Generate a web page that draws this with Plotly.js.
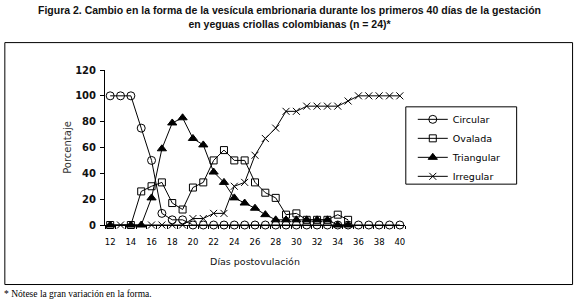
<!DOCTYPE html>
<html>
<head>
<meta charset="utf-8">
<script src="https://cdn.plot.ly/plotly-3.0.1.min.js"></script>
<style>html,body{margin:0;padding:0;background:#fff;}#chart{width:582px;height:307px;}</style>
</head>
<body>
<div id="chart"></div>
<script>
// Días postovulación
const dias = [12,13,14,15,16,17,18,19,20,21,22,23,24,25,26,27,28,29,30,31,32,33,34,35,36,37,38,39,40];
const xTickVals = [12,14,16,18,20,22,24,26,28,30,32,34,36,38,40];
const yTickVals = [0,20,40,60,80,100,120];
const seriesNames = ["Circular","Ovalada","Triangular","Irregular"];
const circular   = [100,100,100,75,50,9,4,4,0,0,0,0,0,0,0,0,0,0,0,0,0,0,0,0,0,0,0,0,0];
const ovalada    = [0,null,0,26,30,33,17,12,29,33,50,58,50,50,33,25,21,8,9,4,4,4,8,4,null,null,null,null,null];
const triangular = [0,null,0,0,21,59,79,83,67,62,41,33,21,17,13,8,4,4,4,4,4,4,0,0,null,null,null,null,null];
const irregular  = [null,0,null,null,0,0,0,0,5,5,9,9,30,33,54,67,75,88,88,92,92,92,92,96,100,100,100,100,100];

const titleText = "Figura 2. Cambio en la forma de la vesícula embrionaria durante los primeros 40 días de la gestación<br>en yeguas criollas colombianas (n = 24)*";
const footText = "* Nótese la gran variación en la forma.";

const markerDefs = [
  {symbol:'circle-open', size:8},
  {symbol:'square-open', size:7},
  {symbol:'triangle-up', size:8},
  {symbol:'x-thin-open', size:7}
];
const values = [circular, ovalada, triangular, irregular];
const traces = values.map((v,i)=>({
  type:'scatter', mode:'lines+markers', x:dias, y:v, name:seriesNames[i],
  connectgaps:true, cliponaxis:false,
  line:{color:'black', width:1},
  marker:{symbol:markerDefs[i].symbol, size:markerDefs[i].size, color:'black', line:{color:'black', width:1}}
}));

// plot area pixel geometry
const L=104.8, R=405.2, T=70.3, B=224.7;
const W=R-L, H=B-T;
const px = x => (x-L)/W;
const py = y => (B-y)/H;

const layout = {
  width:582, height:307,
  margin:{l:L, r:582-R, t:T, b:307-B, pad:0},
  paper_bgcolor:'white', plot_bgcolor:'white',
  font:{family:'DejaVu Sans, Verdana, sans-serif', color:'black'},
  showlegend:true,
  xaxis:{
    range:[11.5,40.5], tickmode:'array', tickvals:xTickVals, ticks:'', showgrid:false, zeroline:false,
    showline:true, linecolor:'black', linewidth:1,
    tickfont:{size:8.5, color:'black'}, ticklabelstandoff:9,
    minor:{tickmode:'linear', tick0:11.5, dtick:1, ticks:'outside', ticklen:3, tickcolor:'black', tickwidth:1, showgrid:false},
    title:{text:'Días postovulación', font:{size:9.5, color:'#111'}, standoff:12}
  },
  yaxis:{
    range:[0,120], tickmode:'array', tickvals:yTickVals, ticks:'outside', ticklen:4, tickcolor:'black',
    showgrid:false, zeroline:false, showline:true, linecolor:'black', linewidth:1,
    tickfont:{size:10, weight:'bold', color:'#111'}, ticklabelstandoff:2,
    title:{text:'Porcentaje', font:{size:10, color:'#333'}, standoff:1}
  },
  legend:{
    x:px(413), xanchor:'left', y:py(105), yanchor:'top',
    borderwidth:0, bgcolor:'rgba(0,0,0,0)',
    font:{size:9.5, color:'black'}, itemwidth:30,
    traceorder:'normal'
  },
  shapes:[
    {type:'rect', xref:'paper', yref:'paper', x0:px(4.5), x1:px(573), y0:py(284), y1:py(43),
     line:{color:'black', width:1}, fillcolor:'rgba(0,0,0,0)', layer:'below'},
    {type:'rect', xref:'paper', yref:'paper', x0:px(406), x1:px(517), y0:py(184), y1:py(107),
     line:{color:'black', width:1}, fillcolor:'rgba(0,0,0,0)', layer:'below'}
  ],
  annotations:[
    {text:titleText, xref:'paper', yref:'paper', x:px(290), xanchor:'center', y:py(3), yanchor:'top',
     showarrow:false, align:'center',
     font:{family:'Liberation Sans Narrow, Liberation Sans, sans-serif', size:10.5, weight:'bold', color:'#111'}},
    {text:footText, xref:'paper', yref:'paper', x:px(2), xanchor:'left', y:py(293), yanchor:'middle',
     showarrow:false, font:{family:'Liberation Serif, serif', size:9.5, color:'black'}}
  ]
};

Plotly.newPlot('chart', traces, layout, {displayModeBar:false, staticPlot:true});
</script>
</body>
</html>
